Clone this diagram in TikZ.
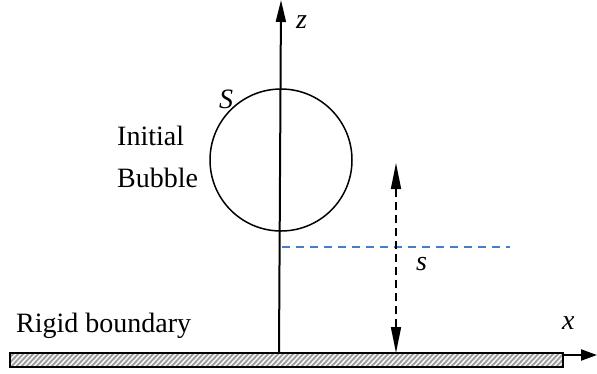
\documentclass[tikz,border=0pt]{standalone}
\usepackage{fontspec}
\setmainfont{Liberation Serif}
\usetikzlibrary{arrows.meta}
\definecolor{dashblue}{RGB}{70,125,200}
\tikzset{
  lbl/.style={inner sep=0pt, anchor=base west, font=\fontsize{28}{33}\selectfont},
  axis/.style={line width=2pt},
  dasharrow/.style={line width=1.5pt, dash pattern=on 8pt off 5pt,
     {Triangle[length=26pt,width=10pt]}-{Triangle[length=26pt,width=10pt]}},
}
\begin{document}
\begin{tikzpicture}[x=1pt,y=-1pt]
\useasboundingbox (0,0) rectangle (597,373);
% rigid boundary
\begin{scope}
\clip (10,353) rectangle (563,367);
\foreach \i in {-20,-15,...,570}
  \draw[gray!75, line width=2pt] (\i,368) -- (\i+15,352);
\end{scope}
\draw[line width=2.4pt] (10,353) rectangle (563,367);
% coordinates
\coordinate (zbot) at (279,353);
\coordinate (ztop) at (281,0);
\coordinate (xstart) at (563,355);
\coordinate (xend) at (597,355);
\coordinate (sbot) at (396,353);
\coordinate (stop) at (396,163);
\coordinate (bl) at (282,247);
\coordinate (br) at (510,247);
% bubble
\node[draw, line width=1.5pt, circle, minimum size=142pt, inner sep=0pt] (bubble) at (281,160) {};
% axes
\draw[axis, -{Triangle[length=22pt,width=10pt]}] (zbot) -- (ztop);
\draw[axis, -{Triangle[length=16pt,width=11pt]}] (xstart) -- (xend);
% blue dashed line
\draw[dashblue, line width=1.5pt, dash pattern=on 8pt off 6pt] (bl) -- (br);
% s arrow
\draw[dasharrow] (sbot) -- (stop);
% labels
\node[lbl] (zl) at (296,28) {\itshape z};
\node[lbl] (Sl) at (219,108) {\itshape S};
\node[lbl] (init) at (117,145) {Initial};
\node[lbl] (bub) at (117,187) {Bubble};
\node[lbl] (sl) at (416,270) {\itshape s};
\node[lbl] (rb) at (16,332) {Rigid boundary};
\node[lbl] (xl) at (562,329) {\itshape x};
\end{tikzpicture}
\end{document}
